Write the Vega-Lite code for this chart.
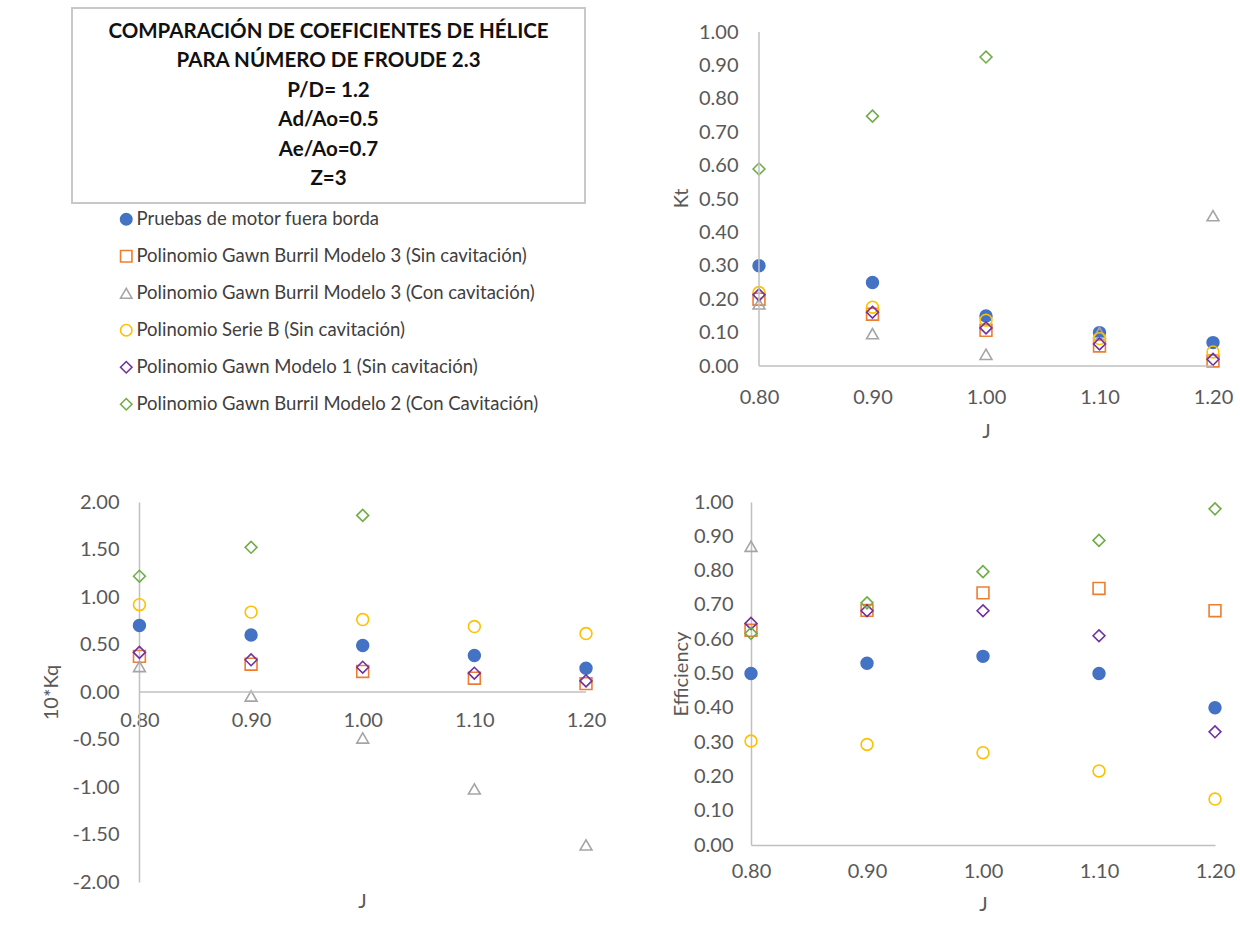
{
  "$schema": "https://vega.github.io/schema/vega-lite/v6.json",
  "background": "white",
  "padding": {"left": 41, "top": 7, "right": 2, "bottom": 2},
  "datasets": {
    "titulo": [
      {"linea": 1, "texto": "COMPARACIÓN DE COEFICIENTES DE HÉLICE"},
      {"linea": 2, "texto": "PARA NÚMERO DE FROUDE 2.3"},
      {"linea": 3, "texto": "P/D= 1.2"},
      {"linea": 4, "texto": "Ad/Ao=0.5"},
      {"linea": 5, "texto": "Ae/Ao=0.7"},
      {"linea": 6, "texto": "Z=3"}
    ],
    "puntos": [
      {"serie": "Pruebas de motor fuera borda", "J": 0.8, "Kt": 0.30, "Kq10": 0.70, "Eff": 0.50},
      {"serie": "Pruebas de motor fuera borda", "J": 0.9, "Kt": 0.25, "Kq10": 0.60, "Eff": 0.53},
      {"serie": "Pruebas de motor fuera borda", "J": 1.0, "Kt": 0.15, "Kq10": 0.49, "Eff": 0.55},
      {"serie": "Pruebas de motor fuera borda", "J": 1.1, "Kt": 0.10, "Kq10": 0.385, "Eff": 0.50},
      {"serie": "Pruebas de motor fuera borda", "J": 1.2, "Kt": 0.07, "Kq10": 0.25, "Eff": 0.40},
      {"serie": "Polinomio Gawn Burril Modelo 3 (Sin cavitación)", "J": 0.8, "Kt": 0.20, "Kq10": 0.375, "Eff": 0.626},
      {"serie": "Polinomio Gawn Burril Modelo 3 (Sin cavitación)", "J": 0.9, "Kt": 0.155, "Kq10": 0.293, "Eff": 0.684},
      {"serie": "Polinomio Gawn Burril Modelo 3 (Sin cavitación)", "J": 1.0, "Kt": 0.107, "Kq10": 0.216, "Eff": 0.735},
      {"serie": "Polinomio Gawn Burril Modelo 3 (Sin cavitación)", "J": 1.1, "Kt": 0.06, "Kq10": 0.145, "Eff": 0.748},
      {"serie": "Polinomio Gawn Burril Modelo 3 (Sin cavitación)", "J": 1.2, "Kt": 0.015, "Kq10": 0.088, "Eff": 0.683},
      {"serie": "Polinomio Gawn Burril Modelo 3 (Con cavitación)", "J": 0.8, "Kt": 0.186, "Kq10": 0.268, "Eff": 0.871},
      {"serie": "Polinomio Gawn Burril Modelo 3 (Con cavitación)", "J": 0.9, "Kt": 0.097, "Kq10": -0.042, "Eff": null},
      {"serie": "Polinomio Gawn Burril Modelo 3 (Con cavitación)", "J": 1.0, "Kt": 0.035, "Kq10": -0.484, "Eff": null},
      {"serie": "Polinomio Gawn Burril Modelo 3 (Con cavitación)", "J": 1.1, "Kt": 0.10, "Kq10": -1.02, "Eff": null},
      {"serie": "Polinomio Gawn Burril Modelo 3 (Con cavitación)", "J": 1.2, "Kt": 0.45, "Kq10": -1.61, "Eff": null},
      {"serie": "Polinomio Serie B (Sin cavitación)", "J": 0.8, "Kt": 0.22, "Kq10": 0.919, "Eff": 0.303},
      {"serie": "Polinomio Serie B (Sin cavitación)", "J": 0.9, "Kt": 0.176, "Kq10": 0.841, "Eff": 0.293},
      {"serie": "Polinomio Serie B (Sin cavitación)", "J": 1.0, "Kt": 0.137, "Kq10": 0.763, "Eff": 0.269},
      {"serie": "Polinomio Serie B (Sin cavitación)", "J": 1.1, "Kt": 0.082, "Kq10": 0.689, "Eff": 0.216},
      {"serie": "Polinomio Serie B (Sin cavitación)", "J": 1.2, "Kt": 0.042, "Kq10": 0.615, "Eff": 0.134},
      {"serie": "Polinomio Gawn Modelo 1 (Sin cavitación)", "J": 0.8, "Kt": 0.213, "Kq10": 0.417, "Eff": 0.646},
      {"serie": "Polinomio Gawn Modelo 1 (Sin cavitación)", "J": 0.9, "Kt": 0.161, "Kq10": 0.339, "Eff": 0.683},
      {"serie": "Polinomio Gawn Modelo 1 (Sin cavitación)", "J": 1.0, "Kt": 0.114, "Kq10": 0.261, "Eff": 0.683},
      {"serie": "Polinomio Gawn Modelo 1 (Sin cavitación)", "J": 1.1, "Kt": 0.066, "Kq10": 0.198, "Eff": 0.61},
      {"serie": "Polinomio Gawn Modelo 1 (Sin cavitación)", "J": 1.2, "Kt": 0.02, "Kq10": 0.117, "Eff": 0.33},
      {"serie": "Polinomio Gawn Burril Modelo 2 (Con Cavitación)", "J": 0.8, "Kt": 0.59, "Kq10": 1.219, "Eff": 0.617},
      {"serie": "Polinomio Gawn Burril Modelo 2 (Con Cavitación)", "J": 0.9, "Kt": 0.748, "Kq10": 1.523, "Eff": 0.706},
      {"serie": "Polinomio Gawn Burril Modelo 2 (Con Cavitación)", "J": 1.0, "Kt": 0.925, "Kq10": 1.859, "Eff": 0.797},
      {"serie": "Polinomio Gawn Burril Modelo 2 (Con Cavitación)", "J": 1.1, "Kt": null, "Kq10": null, "Eff": 0.888},
      {"serie": "Polinomio Gawn Burril Modelo 2 (Con Cavitación)", "J": 1.2, "Kt": null, "Kq10": null, "Eff": 0.98}
    ]
  },
  "columns": 2,
  "align": "each",
  "bounds": "flush",
  "spacing": {"row": 136, "column": 165},
  "concat": [
    {
      "width": 513,
      "height": 195,
      "view": {"stroke": "#c8c8c8", "strokeWidth": 2},
      "data": {"name": "titulo"},
      "mark": {"type": "text", "font": "Lato", "fontWeight": "bold", "fontSize": 20.5, "color": "#111111", "baseline": "middle", "align": "center"},
      "encoding": {
        "y": {"field": "linea", "type": "ordinal", "scale": {"type": "point", "padding": 0.8}, "axis": null},
        "text": {"field": "texto"}
      }
    },
    {
      "width": 462,
      "height": 358,
      "resolve": {"axis": {"x": "independent", "y": "independent"}},
      "layer": [
        {
          "data": {"name": "puntos"},
          "mark": {"type": "point", "size": 140, "strokeWidth": 1.6, "opacity": 1},
          "encoding": {
            "x": {"field": "J", "type": "quantitative", "scale": {"domain": [0.79296, 1.2], "nice": false, "zero": false},
                  "axis": {"title": "J", "values": [0.8, 0.9, 1.0, 1.1, 1.2], "labelExpr": "format(datum.value, '.2f')", "domain": false, "labelPadding": 21, "titlePadding": 14, "titleX": 235}},
            "y": {"field": "Kt", "type": "quantitative", "scale": {"domain": [0, 1.07186], "nice": false, "zero": false},
                  "axis": {"title": "Kt", "values": [0, 0.1, 0.2, 0.3, 0.4, 0.5, 0.6, 0.7, 0.8, 0.9, 1], "labelExpr": "format(datum.value, '.2f')", "domain": false, "offset": -8, "labelPadding": 21, "titlePadding": 7, "titleY": 190}},
            "shape": {"field": "serie", "type": "nominal", "scale": {"domain": ["Pruebas de motor fuera borda", "Polinomio Gawn Burril Modelo 3 (Sin cavitación)", "Polinomio Gawn Burril Modelo 3 (Con cavitación)", "Polinomio Serie B (Sin cavitación)", "Polinomio Gawn Modelo 1 (Sin cavitación)", "Polinomio Gawn Burril Modelo 2 (Con Cavitación)"], "range": ["circle", "square", "triangle-up", "circle", "diamond", "diamond"]}},
            "stroke": {"field": "serie", "type": "nominal", "scale": {"domain": ["Pruebas de motor fuera borda", "Polinomio Gawn Burril Modelo 3 (Sin cavitación)", "Polinomio Gawn Burril Modelo 3 (Con cavitación)", "Polinomio Serie B (Sin cavitación)", "Polinomio Gawn Modelo 1 (Sin cavitación)", "Polinomio Gawn Burril Modelo 2 (Con Cavitación)"], "range": ["#4472C4", "#ED7D31", "#A5A5A5", "#FFC000", "#7030A0", "#70AD47"]},
                       "legend": {"title": null, "orient": "none", "legendX": 45, "legendY": 202}},
            "fill": {"field": "serie", "type": "nominal", "scale": {"domain": ["Pruebas de motor fuera borda", "Polinomio Gawn Burril Modelo 3 (Sin cavitación)", "Polinomio Gawn Burril Modelo 3 (Con cavitación)", "Polinomio Serie B (Sin cavitación)", "Polinomio Gawn Modelo 1 (Sin cavitación)", "Polinomio Gawn Burril Modelo 2 (Con Cavitación)"], "range": ["#4472C4", "transparent", "transparent", "transparent", "transparent", "transparent"]}}
          }
        },
        {
          "data": {"values": [{}]},
          "mark": {"type": "rule", "color": "#c0c0c0", "strokeWidth": 1.5},
          "encoding": {
            "x": {"datum": 0.8, "type": "quantitative", "scale": {"domain": [0.79296, 1.2], "nice": false, "zero": false}, "axis": null},
            "y": {"datum": 0, "type": "quantitative", "scale": {"domain": [0, 1.07186], "nice": false, "zero": false}, "axis": null},
            "y2": {"datum": 1}
          }
        },
        {
          "data": {"values": [{}]},
          "mark": {"type": "rule", "color": "#c0c0c0", "strokeWidth": 1.5},
          "encoding": {
            "x": {"datum": 0.8, "type": "quantitative", "scale": {"domain": [0.79296, 1.2], "nice": false, "zero": false}, "axis": null},
            "x2": {"datum": 1.2},
            "y": {"datum": 0, "type": "quantitative", "scale": {"domain": [0, 1.07186], "nice": false, "zero": false}, "axis": null}
          }
        }
      ]
    },
    {
      "width": 514,
      "height": 380,
      "resolve": {"axis": {"x": "independent", "y": "independent"}},
      "layer": [
        {
          "data": {"name": "puntos"},
          "mark": {"type": "point", "size": 140, "strokeWidth": 1.6, "opacity": 1},
          "encoding": {
            "x": {"field": "J", "type": "quantitative", "scale": {"domain": [0.7396, 1.2], "nice": false, "zero": false},
                  "axis": {"title": "J", "values": [0.8, 0.9, 1.0, 1.1, 1.2], "labelExpr": "format(datum.value, '.2f')", "domain": false, "offset": -190, "labelPadding": 18, "titleX": 290, "titleY": 199}},
            "y": {"field": "Kq10", "type": "quantitative", "scale": {"domain": [-2, 2], "nice": false, "zero": false},
                  "axis": {"title": "10*Kq", "values": [-2, -1.5, -1, -0.5, 0, 0.5, 1, 1.5, 2], "labelExpr": "replace(format(datum.value, '.2f'), '\u2212', '-')", "domain": true, "offset": -67, "labelPadding": 20, "titlePadding": 11}},
            "shape": {"field": "serie", "type": "nominal", "scale": {"domain": ["Pruebas de motor fuera borda", "Polinomio Gawn Burril Modelo 3 (Sin cavitación)", "Polinomio Gawn Burril Modelo 3 (Con cavitación)", "Polinomio Serie B (Sin cavitación)", "Polinomio Gawn Modelo 1 (Sin cavitación)", "Polinomio Gawn Burril Modelo 2 (Con Cavitación)"], "range": ["circle", "square", "triangle-up", "circle", "diamond", "diamond"]}},
            "stroke": {"field": "serie", "type": "nominal", "scale": {"domain": ["Pruebas de motor fuera borda", "Polinomio Gawn Burril Modelo 3 (Sin cavitación)", "Polinomio Gawn Burril Modelo 3 (Con cavitación)", "Polinomio Serie B (Sin cavitación)", "Polinomio Gawn Modelo 1 (Sin cavitación)", "Polinomio Gawn Burril Modelo 2 (Con Cavitación)"], "range": ["#4472C4", "#ED7D31", "#A5A5A5", "#FFC000", "#7030A0", "#70AD47"]},
                       "legend": {"title": null, "orient": "none", "legendX": 45, "legendY": 202}},
            "fill": {"field": "serie", "type": "nominal", "scale": {"domain": ["Pruebas de motor fuera borda", "Polinomio Gawn Burril Modelo 3 (Sin cavitación)", "Polinomio Gawn Burril Modelo 3 (Con cavitación)", "Polinomio Serie B (Sin cavitación)", "Polinomio Gawn Modelo 1 (Sin cavitación)", "Polinomio Gawn Burril Modelo 2 (Con Cavitación)"], "range": ["#4472C4", "transparent", "transparent", "transparent", "transparent", "transparent"]}}
          }
        },
        {
          "data": {"values": [{}]},
          "mark": {"type": "rule", "color": "#c0c0c0", "strokeWidth": 1.5},
          "encoding": {
            "x": {"datum": 0.8, "type": "quantitative", "scale": {"domain": [0.7396, 1.2], "nice": false, "zero": false}, "axis": null},
            "x2": {"datum": 1.2},
            "y": {"datum": 0, "type": "quantitative", "scale": {"domain": [-2, 2], "nice": false, "zero": false}, "axis": null}
          }
        }
      ]
    },
    {
      "width": 464,
      "height": 343,
      "data": {"name": "puntos"},
      "mark": {"type": "point", "size": 140, "strokeWidth": 1.6, "opacity": 1},
      "encoding": {
        "x": {"field": "J", "type": "quantitative", "scale": {"domain": [0.8, 1.2], "nice": false, "zero": false},
              "axis": {"title": "J", "values": [0.8, 0.9, 1.0, 1.1, 1.2], "labelExpr": "format(datum.value, '.2f')", "domain": true, "labelPadding": 16, "titlePadding": 13}},
        "y": {"field": "Eff", "type": "quantitative", "scale": {"domain": [0, 1], "nice": false, "zero": false},
              "axis": {"title": "Efficiency", "values": [0, 0.1, 0.2, 0.3, 0.4, 0.5, 0.6, 0.7, 0.8, 0.9, 1], "labelExpr": "format(datum.value, '.2f')", "domain": true, "labelPadding": 18, "titlePadding": 2}},
        "shape": {"field": "serie", "type": "nominal", "scale": {"domain": ["Pruebas de motor fuera borda", "Polinomio Gawn Burril Modelo 3 (Sin cavitación)", "Polinomio Gawn Burril Modelo 3 (Con cavitación)", "Polinomio Serie B (Sin cavitación)", "Polinomio Gawn Modelo 1 (Sin cavitación)", "Polinomio Gawn Burril Modelo 2 (Con Cavitación)"], "range": ["circle", "square", "triangle-up", "circle", "diamond", "diamond"]}},
        "stroke": {"field": "serie", "type": "nominal", "scale": {"domain": ["Pruebas de motor fuera borda", "Polinomio Gawn Burril Modelo 3 (Sin cavitación)", "Polinomio Gawn Burril Modelo 3 (Con cavitación)", "Polinomio Serie B (Sin cavitación)", "Polinomio Gawn Modelo 1 (Sin cavitación)", "Polinomio Gawn Burril Modelo 2 (Con Cavitación)"], "range": ["#4472C4", "#ED7D31", "#A5A5A5", "#FFC000", "#7030A0", "#70AD47"]},
                   "legend": {"title": null, "orient": "none", "legendX": 45, "legendY": 202}},
        "fill": {"field": "serie", "type": "nominal", "scale": {"domain": ["Pruebas de motor fuera borda", "Polinomio Gawn Burril Modelo 3 (Sin cavitación)", "Polinomio Gawn Burril Modelo 3 (Con cavitación)", "Polinomio Serie B (Sin cavitación)", "Polinomio Gawn Modelo 1 (Sin cavitación)", "Polinomio Gawn Burril Modelo 2 (Con Cavitación)"], "range": ["#4472C4", "transparent", "transparent", "transparent", "transparent", "transparent"]}}
      }
    }
  ],
  "config": {
    "font": "Lato",
    "view": {"stroke": null},
    "axis": {
      "labelFont": "Lato", "labelFontSize": 20, "labelColor": "#595959",
      "titleFont": "Lato", "titleFontSize": 20, "titleColor": "#595959", "titleFontWeight": "normal",
      "grid": false, "ticks": false, "tickSize": 0,
      "domainColor": "#c0c0c0", "domainWidth": 1.5,
      "labelFlush": false, "labelOverlap": false, "labelBound": false
    },
    "legend": {
      "orient": "none", "legendX": 45, "legendY": 202,
      "labelFont": "Lato", "labelFontSize": 18.5, "labelColor": "#404040", "labelLimit": 0,
      "symbolSize": 130, "symbolStrokeWidth": 1.6, "rowPadding": 18, "labelOffset": 1, "padding": 0
    }
  }
}
